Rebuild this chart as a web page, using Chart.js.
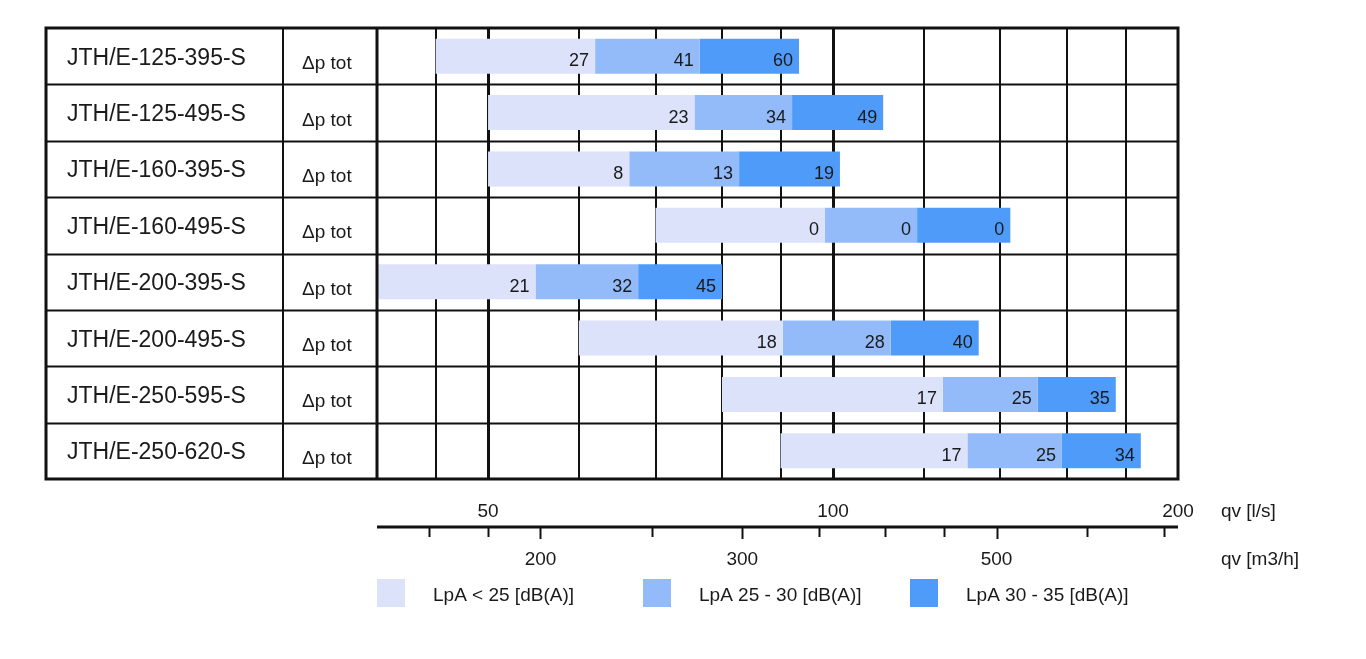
<!DOCTYPE html>
<html>
<head>
<meta charset="utf-8">
<title>JTH/E - qv / LpA</title>
<script src="https://cdn.jsdelivr.net/npm/chart.js@4.4.0/dist/chart.umd.min.js"></script>
<style>
    html, body { margin: 0; padding: 0; background: #fff; }
    #wrap { position: relative; width: 1366px; height: 659px; }
</style>
</head>
<body>
<div id="wrap"><canvas id="qvChart"></canvas></div>
<script>
// Units (one row each)
const units = [
    'JTH/E-125-395-S', 'JTH/E-125-495-S', 'JTH/E-160-395-S', 'JTH/E-160-495-S',
    'JTH/E-200-395-S', 'JTH/E-200-495-S', 'JTH/E-250-595-S', 'JTH/E-250-620-S'
];
const pressureLabel = 'Δp tot';

// qv [l/s] where each noise band starts / ends
const bandStart = [45, 50, 50, 70, 40, 60, 80, 90];
const band25 = [62, 75.7, 66.4, 98.4, 55, 90.4, 124.7, 131];
const band30 = [76.5, 92.1, 82.8, 118.4, 67.6, 112.3, 150.9, 158.4];
const band35 = [93.4, 110.6, 101.4, 142.8, 80, 134, 176.5, 185.6];

// Δp tot printed at the end of each band
const dpLow = [27, 23, 8, 0, 21, 18, 17, 17];
const dpMid = [41, 34, 13, 0, 32, 28, 25, 25];
const dpHigh = [60, 49, 19, 0, 45, 40, 35, 34];

const bandLabels = ['LpA < 25 [dB(A)]', 'LpA 25 - 30 [dB(A)]', 'LpA 30 - 35 [dB(A)]'];
const bandColors = ['#dce2fa', '#94bbf9', '#4f9bfa'];

// Axis ticks
const qvMin = 40;
const qvMax = 200;
const gridTicks = [45, 50, 60, 70, 80, 90, 100, 120, 140, 160, 180];
const boldTicks = [50, 100];
const lsLabels = [50, 100, 200];
const m3hTicks = [160, 180, 200, 250, 300, 350, 400, 450, 500, 600, 700];
const m3hLabels = [200, 300, 500];

const FONT = '"Liberation Sans", Arial, sans-serif';
const INK = '#1a1a1a';

// Table, borders, value labels, bottom axis and legend
const tablePlugin = {
    id: 'tablePlugin',
    afterDatasetsDraw(chart) {
        const c = chart.ctx;
        const area = chart.chartArea;
        const x = chart.scales.x;
        const y = chart.scales.y;
        const rowH = (area.bottom - area.top) / units.length;
        const tableLeft = 46;
        const col1 = 283;

        // value labels at the end of each band
        chart.data.datasets.forEach((ds, di) => {
            const meta = chart.getDatasetMeta(di);
            c.save();
            c.font = '18px ' + FONT;
            c.fillStyle = INK;
            c.textAlign = 'right';
            c.textBaseline = 'alphabetic';
            meta.data.forEach((bar, i) => {
                c.fillText(String(ds.dp[i]), bar.x - 6, bar.y + 10);
            });
            c.restore();
        });

        c.save();
        c.strokeStyle = '#111';

        // row lines
        c.lineWidth = 2;
        for (let i = 1; i < units.length; i++) {
            const yy = Math.round(area.top + i * rowH) + 0.5;
            c.beginPath();
            c.moveTo(tableLeft, yy);
            c.lineTo(area.right, yy);
            c.stroke();
        }
        // column line
        c.beginPath();
        c.moveTo(col1, area.top);
        c.lineTo(col1, area.bottom);
        c.stroke();
        // chart left edge
        c.lineWidth = 3;
        c.beginPath();
        c.moveTo(area.left, area.top);
        c.lineTo(area.left, area.bottom);
        c.stroke();
        // outer frame
        c.strokeRect(tableLeft, area.top, area.right - tableLeft, area.bottom - area.top);

        // table text
        c.fillStyle = INK;
        c.textAlign = 'left';
        c.textBaseline = 'alphabetic';
        units.forEach((u, i) => {
            const cy = y.getPixelForValue(i);
            c.font = '23px ' + FONT;
            c.fillText(u, 67, cy + 8.5);
            c.font = '19px ' + FONT;
            c.fillText(pressureLabel, 302, cy + 13);
        });

        // bottom axis
        const axisY = 527;
        c.lineWidth = 3;
        c.beginPath();
        c.moveTo(area.left, axisY);
        c.lineTo(area.right, axisY);
        c.stroke();

        c.lineWidth = 2;
        m3hTicks.forEach(v => {
            const px = Math.round(x.getPixelForValue(v / 3.6)) + 0.5;
            c.beginPath();
            c.moveTo(px, axisY);
            c.lineTo(px, axisY + (m3hLabels.includes(v) ? 12 : 10));
            c.stroke();
        });

        c.font = '19px ' + FONT;
        c.textAlign = 'center';
        lsLabels.forEach(v => {
            c.fillText(String(v), x.getPixelForValue(v), 517);
        });
        m3hLabels.forEach(v => {
            c.fillText(String(v), x.getPixelForValue(v / 3.6), 565);
        });
        c.textAlign = 'left';
        c.fillText('qv [l/s]', 1221, 517);
        c.fillText('qv [m3/h]', 1221, 565);

        // legend
        const legendX = [377, 643, 910];
        chart.data.datasets.forEach((ds, di) => {
            c.fillStyle = ds.backgroundColor;
            c.fillRect(legendX[di], 579, 28, 28);
            c.fillStyle = INK;
            c.fillText(ds.label, legendX[di] + 56, 601);
        });

        c.restore();
    }
};

const qvCtx = document.getElementById('qvChart');

new Chart(qvCtx, {
    type: 'bar',
    data: {
        labels: units,
        datasets: [
            {
                label: bandLabels[0],
                data: units.map((u, i) => [bandStart[i], band25[i]]),
                backgroundColor: bandColors[0],
                dp: dpLow
            },
            {
                label: bandLabels[1],
                data: units.map((u, i) => [band25[i], band30[i]]),
                backgroundColor: bandColors[1],
                dp: dpMid
            },
            {
                label: bandLabels[2],
                data: units.map((u, i) => [band30[i], band35[i]]),
                backgroundColor: bandColors[2],
                dp: dpHigh
            }
        ]
    },
    options: {
        indexAxis: 'y',
        responsive: true,
        maintainAspectRatio: false,
        animation: false,
        layout: {
            padding: { left: 377, right: 188, top: 28, bottom: 180 }
        },
        datasets: {
            bar: {
                grouped: false,
                categoryPercentage: 1,
                barPercentage: 0.62,
                borderWidth: 0
            }
        },
        plugins: {
            legend: { display: false },
            tooltip: { enabled: false }
        },
        scales: {
            x: {
                type: 'logarithmic',
                min: qvMin,
                max: qvMax,
                border: { display: false },
                afterBuildTicks: scale => {
                    scale.ticks = gridTicks.map(v => ({ value: v }));
                },
                ticks: { display: false },
                grid: {
                    drawTicks: false,
                    color: '#111',
                    lineWidth: ctx => boldTicks.includes(ctx.tick && ctx.tick.value) ? 3 : 2
                }
            },
            y: {
                display: false
            }
        }
    },
    plugins: [tablePlugin]
});
</script>
</body>
</html>
